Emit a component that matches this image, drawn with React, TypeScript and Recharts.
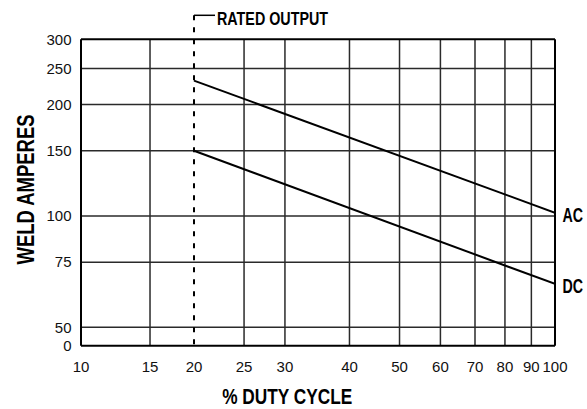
import React from 'react';
import { LineChart, Line, XAxis, YAxis, CartesianGrid, ReferenceLine } from 'recharts';

// ---- data ----
const dutyCycle = [20, 100];
const acAmps = [232, 102];
const dcAmps = [150, 65.5];
const seriesNames = ['AC', 'DC'];

const xTickValues = [10, 15, 20, 25, 30, 40, 50, 60, 70, 80, 90, 100];
const xGridValues = [15, 25, 30, 40, 50, 60, 70, 80, 90];
const yTickValues = [44.6, 50, 75, 100, 150, 200, 250, 300];
const yTickLabels = ['0', '50', '75', '100', '150', '200', '250', '300'];
const yGridValues = [50, 75, 100, 150, 200, 250];
const ratedOutputDuty = 20;
const ratedOutputLabel = 'RATED OUTPUT';
const xTitle = '% DUTY CYCLE';
const yTitle = 'WELD AMPERES';

const data = dutyCycle.map((d, i) => ({ duty: d, ac: acAmps[i], dc: dcAmps[i] }));

// ---- custom duty-cycle axis scale (compressed 10-20, log 20-100) ----
const BREAK_15 = 0.1456;
const BREAK_20 = 0.2384;
function dutyFraction(v: number) {
  if (v >= 20) return BREAK_20 + ((1 - BREAK_20) * Math.log(v / 20)) / Math.log(5);
  if (v >= 15) return BREAK_15 + ((BREAK_20 - BREAK_15) * (v - 15)) / 5;
  return (BREAK_15 * (v - 10)) / 5;
}
function makeDutyScale(dom: number[] = [10, 100], rng: number[] = [0, 1]): any {
  const s: any = (v: number) => rng[0] + (rng[1] - rng[0]) * dutyFraction(v);
  s.domain = (d?: number[]) => {
    if (d === undefined) return dom.slice();
    dom = d.slice();
    return s;
  };
  s.range = (r?: number[]) => {
    if (r === undefined) return rng.slice();
    rng = r.slice();
    return s;
  };
  s.copy = () => makeDutyScale(dom, rng);
  s.ticks = () => xTickValues.slice();
  s.tickFormat = () => (v: number) => String(v);
  return s;
}
const dutyScale = makeDutyScale();

const BOLD = "'Liberation Sans', Arial, Helvetica, sans-serif";
const REG = "'Liberation Sans', Arial, Helvetica, sans-serif";

const RatedShape = (props: any) => {
  const { x1, y1, y2 } = props;
  const plotTop = Math.min(y1, y2);
  const plotBottom = Math.max(y1, y2);
  const top = plotTop - 24;
  return (
    <g>
      <line x1={x1} y1={top} x2={x1} y2={plotBottom} stroke="#000" strokeWidth={2} strokeDasharray="5 7" />
      <line x1={x1} y1={top} x2={x1 + 21} y2={top} stroke="#000" strokeWidth={1.5} />
      <text
        x={x1 + 23}
        y={top + 9.5}
        fontFamily={BOLD}
        fontWeight="bold"
        fontSize={18}
        fill="#000"
        textLength={111}
        lengthAdjust="spacingAndGlyphs"
      >
        {ratedOutputLabel}
      </text>
    </g>
  );
};

const makeEndLabel = (name: string) => (props: any) => {
  const { x, y, index } = props;
  if (index !== data.length - 1) return null;
  return (
    <text
      transform={`translate(${x + 7.5}, ${y + 9.5}) scale(0.73, 1)`}
      x={0}
      y={0}
      fontFamily={BOLD}
      fontWeight="bold"
      fontSize={19.5}
      fill="#000"
    >
      {name}
    </text>
  );
};

const XTitle = (props: any) => {
  const vb = props.viewBox;
  return (
    <text
      x={vb.x + vb.width * 0.435}
      y={vb.y + 58}
      textAnchor="middle"
      fontFamily={BOLD}
      fontWeight="bold"
      fontSize={22}
      fill="#000"
      textLength={130}
      lengthAdjust="spacingAndGlyphs"
    >
      {xTitle}
    </text>
  );
};

const YTitle = (props: any) => {
  const vb = props.viewBox;
  const cx = 34;
  const cy = vb.y + vb.height / 2 - 3;
  return (
    <text
      x={cx}
      y={cy}
      transform={`rotate(-90, ${cx}, ${cy})`}
      textAnchor="middle"
      fontFamily={BOLD}
      fontWeight="bold"
      fontSize={23}
      fill="#000"
      textLength={150}
      lengthAdjust="spacingAndGlyphs"
    >
      {yTitle}
    </text>
  );
};

const tickStyle = { fill: '#111', fontSize: 15, fontFamily: REG };

export default function App() {
  return (
    <div style={{ position: 'absolute', left: 0, top: 0, width: 587, height: 409, background: '#fff' }}>
      <LineChart width={587} height={409} data={data} margin={{ top: 39.3, right: 32, bottom: 33.3, left: 21 }}>
        <CartesianGrid stroke="#2a2a2a" strokeWidth={1.5} verticalValues={xGridValues} horizontalValues={yGridValues} />
        <XAxis
          dataKey="duty"
          type="number"
          scale={dutyScale}
          domain={[10, 100]}
          ticks={xTickValues}
          interval={0}
          allowDataOverflow
          height={30}
          tickLine={false}
          tickSize={0}
          tickMargin={15.5}
          fontSize={15}
          axisLine={{ stroke: '#000', strokeWidth: 2 }}
          tick={tickStyle}
          label={<XTitle />}
        />
        <YAxis
          type="number"
          scale="log"
          domain={[44.6, 300]}
          ticks={yTickValues}
          interval={0}
          allowDataOverflow
          tickFormatter={(v: number) => yTickLabels[yTickValues.indexOf(v)] ?? String(v)}
          width={60}
          tickLine={false}
          tickSize={0}
          tickMargin={9.5}
          fontSize={15}
          axisLine={{ stroke: '#000', strokeWidth: 2 }}
          tick={tickStyle}
          label={<YTitle />}
        />
        <ReferenceLine y={300} stroke="#000" strokeWidth={2} />
        <ReferenceLine x={100} stroke="#000" strokeWidth={2} />
        <ReferenceLine x={ratedOutputDuty} shape={<RatedShape />} />
        <Line dataKey="ac" name={seriesNames[0]} stroke="#000" strokeWidth={2} dot={false} isAnimationActive={false} label={makeEndLabel(seriesNames[0])} />
        <Line dataKey="dc" name={seriesNames[1]} stroke="#000" strokeWidth={2} dot={false} isAnimationActive={false} label={makeEndLabel(seriesNames[1])} />
      </LineChart>
    </div>
  );
}
